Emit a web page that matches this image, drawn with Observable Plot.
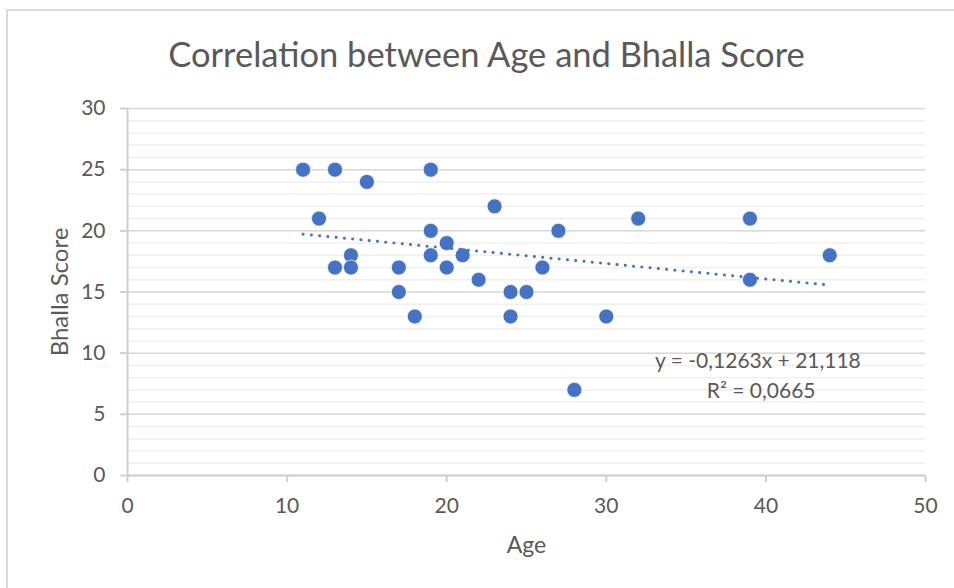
<!DOCTYPE html>
<html>
<head>
<meta charset="utf-8">
<script src="https://cdn.jsdelivr.net/npm/d3@7"></script>
<script src="https://cdn.jsdelivr.net/npm/@observablehq/plot@0.6"></script>
<style>
  html, body { margin: 0; padding: 0; background: #fff; }
  #wrap { position: relative; width: 954px; height: 588px; overflow: hidden; }
  #border { position: absolute; left: 6px; top: 9px; width: 1000px; height: 1000px;
            border-top: 2px solid #d9d9d9; border-left: 2px solid #d9d9d9; pointer-events: none; }
</style>
</head>
<body>
<div id="wrap"><div id="border"></div></div>
<script>
// ---- data ----
const ages   = [11, 12, 13, 13, 14, 14, 15, 17, 17, 18, 19, 19, 19, 20, 20, 21, 22, 23, 24, 24, 25, 26, 27, 28, 30, 32, 39, 39, 44];
const scores = [25, 21, 25, 17, 18, 17, 24, 17, 15, 13, 25, 20, 18, 19, 17, 18, 16, 22, 15, 13, 15, 17, 20,  7, 13, 21, 21, 16, 18];
const trendSlope = -0.1263;
const trendIntercept = 21.118;
const equationLines = ["y = -0,1263x + 21,118", "R² = 0,0665"];
const xTicks = [0, 10, 20, 30, 40, 50];
const yTicks = [0, 5, 10, 15, 20, 25, 30];
const yMinorTicks = d3.range(0, 31, 1);
const titleText = "Correlation between Age and Bhalla Score";
const xLabel = "Age";
const yLabel = "Bhalla Score";

// ---- build ----
const points = ages.map((a, i) => ({age: a, score: scores[i]}));
const xExt = d3.extent(ages);
const trend = xExt.map(x => ({age: x, score: trendSlope * x + trendIntercept}));
const eq = [{label: equationLines[0], x: 39.5, y: 9.35}, {label: equationLines[1], x: 39.7, y: 6.9}];

const FONT = "Lato, 'Open Sans', sans-serif";
const TXT = "#595959";

const chart = Plot.plot({
  width: 954,
  height: 588,
  marginLeft: 127,
  marginRight: 29,
  marginTop: 108,
  marginBottom: 113,
  style: {fontFamily: FONT, fontSize: "21px", color: TXT, background: "transparent"},
  x: {domain: [0, 50]},
  y: {domain: [0, 30]},
  marks: [
    Plot.gridY(yMinorTicks, {stroke: "#efefef", strokeOpacity: 1, strokeWidth: 1.5}),
    Plot.gridY(yTicks, {stroke: "#d9d9d9", strokeOpacity: 1, strokeWidth: 1.5}),
    Plot.ruleX([0], {stroke: "#cfcfcf", strokeWidth: 2}),
    Plot.ruleY([0], {stroke: "#cfcfcf", strokeWidth: 2}),
    Plot.axisY(yTicks, {tickSize: 7, tickPadding: 15, stroke: "#cfcfcf", strokeWidth: 2, fill: TXT, fontSize: 21, label: null}),
    Plot.axisX(xTicks, {tickSize: 7, tickPadding: 16, stroke: "#cfcfcf", strokeWidth: 2, fill: TXT, fontSize: 21, label: null}),
    Plot.dot(points, {x: "age", y: "score", r: 7.5, fill: "#4472C4", stroke: "#ffffff", strokeWidth: 0.7}),
    Plot.line(trend, {x: "age", y: "score", stroke: "#4472C4", strokeWidth: 3, strokeLinecap: "round", strokeDasharray: "0.1 8.2"}),
    Plot.text(eq, {x: "x", y: "y", text: "label", fill: TXT, fontSize: 21, textAnchor: "middle"}),
    Plot.text([titleText], {frameAnchor: "top", dx: -40, dy: -53, fill: TXT, fontSize: 34.5, lineAnchor: "middle", textAnchor: "middle"}),
    Plot.text([xLabel], {frameAnchor: "bottom", dy: 70, fill: TXT, fontSize: 23, lineAnchor: "middle", textAnchor: "middle"}),
    Plot.text([yLabel], {frameAnchor: "left", dx: -67, rotate: -90, fill: TXT, fontSize: 24, lineAnchor: "middle", textAnchor: "middle"})
  ]
});
document.getElementById("wrap").appendChild(chart);
chart.style.position = "absolute";
chart.style.left = "0";
chart.style.top = "0";
</script>
</body>
</html>
